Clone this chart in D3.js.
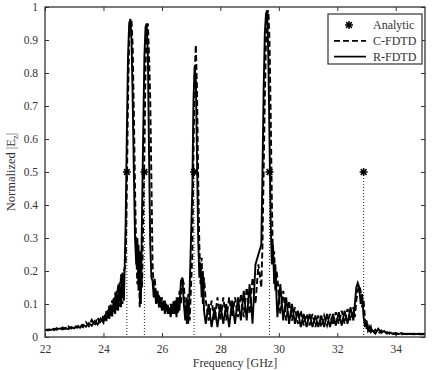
<!DOCTYPE html>
<html>
<head>
<meta charset="utf-8">
<script src="https://cdn.jsdelivr.net/npm/d3@7/dist/d3.min.js"></script>
<style>
  body { margin: 0; background: #fff; }
  svg { display: block; }
  text { font-family: "Liberation Serif", "Times New Roman", serif; fill: #333; }
</style>
</head>
<body>
<div id="chart"></div>
<script>
// frequency grid [GHz]
const freq = [
  22.0, 22.1, 22.2, 22.3, 22.4, 22.5, 22.6, 22.7, 22.8, 22.9, 23.0, 23.1, 23.2, 23.3, 23.4, 23.5, 23.6, 23.7, 23.8, 23.9, 24.0,
  24.05, 24.1, 24.15, 24.2, 24.25, 24.3, 24.35, 24.4, 24.45, 24.5, 24.55, 24.6, 24.65, 24.7,
  24.76, 24.8, 24.84, 24.88, 24.92, 24.96, 25.0, 25.04, 25.08, 25.12, 25.16, 25.2, 25.24, 25.28, 25.32, 25.36, 25.4, 25.44, 25.48, 25.52, 25.56, 25.6, 25.64, 25.68, 25.72,
  25.75, 25.8, 25.85, 25.9, 25.95, 26.0, 26.05, 26.1, 26.15, 26.2, 26.25, 26.3, 26.35, 26.4, 26.45, 26.5, 26.55, 26.6, 26.65, 26.7, 26.75, 26.8, 26.85, 26.9, 26.95,
  27.04, 27.08, 27.12, 27.16, 27.2, 27.24, 27.28, 27.32, 27.36, 27.4, 27.44,
  27.5, 27.6, 27.7, 27.8, 27.9, 28.0, 28.1, 28.2, 28.3, 28.4, 28.5, 28.6, 28.7, 28.8, 28.9, 29.0, 29.1, 29.2, 29.3,
  29.4, 29.44, 29.48, 29.52, 29.56, 29.6, 29.64, 29.68, 29.72, 29.76, 29.8, 29.84, 29.88, 29.92,
  29.95, 30.05, 30.15, 30.25, 30.35, 30.45, 30.55, 30.65, 30.75, 30.85, 30.95, 31.05, 31.15, 31.25, 31.35, 31.45, 31.55, 31.65, 31.75, 31.85, 31.95, 32.05, 32.15, 32.25, 32.35, 32.45,
  32.55, 32.6, 32.65, 32.7, 32.75, 32.8, 32.85, 32.9, 32.95, 33.0, 33.05, 33.1, 33.15,
  33.2, 33.3, 33.4, 33.5, 33.6, 33.7, 33.8, 33.9, 34.0, 34.1, 34.2, 34.3, 34.4, 34.5, 34.6, 34.7, 34.8, 34.9, 35.0
]

const cfdtd = [
  0.023, 0.020, 0.025, 0.021, 0.027, 0.022, 0.029, 0.024, 0.032, 0.026, 0.035, 0.028, 0.040, 0.030, 0.045, 0.033, 0.052, 0.036, 0.060, 0.040, 0.066,
  0.050, 0.078, 0.058, 0.095, 0.065, 0.112, 0.072, 0.135, 0.082, 0.160, 0.092, 0.190, 0.100, 0.200,
  0.22, 0.45, 0.72, 0.90, 0.95, 0.96, 0.88, 0.68, 0.45, 0.26, 0.16, 0.28, 0.09, 0.22, 0.15, 0.35, 0.55, 0.82, 0.93, 0.95, 0.85, 0.72, 0.48, 0.22, 0.15,
  0.18, 0.13, 0.10, 0.13, 0.09, 0.12, 0.08, 0.11, 0.08, 0.10, 0.07, 0.10, 0.07, 0.11, 0.07, 0.12, 0.07, 0.14, 0.10, 0.18, 0.16, 0.08, 0.04, 0.13, 0.05,
  0.25, 0.55, 0.80, 0.885, 0.75, 0.48, 0.28, 0.16, 0.24, 0.10, 0.18,
  0.11, 0.05, 0.11, 0.05, 0.12, 0.05, 0.12, 0.05, 0.12, 0.06, 0.12, 0.06, 0.13, 0.06, 0.15, 0.07, 0.18, 0.10, 0.22,
  0.15, 0.28, 0.50, 0.72, 0.90, 0.98, 0.99, 0.90, 0.68, 0.42, 0.22, 0.26, 0.14, 0.20,
  0.18, 0.07, 0.14, 0.05, 0.11, 0.05, 0.09, 0.04, 0.08, 0.035, 0.07, 0.035, 0.07, 0.03, 0.065, 0.03, 0.065, 0.035, 0.07, 0.035, 0.075, 0.04, 0.08, 0.04, 0.085, 0.05,
  0.09, 0.06, 0.11, 0.14, 0.155, 0.14, 0.09, 0.11, 0.05, 0.025, 0.04, 0.015, 0.03,
  0.012, 0.022, 0.010, 0.020, 0.010, 0.015, 0.009, 0.012, 0.008, 0.011, 0.008, 0.010, 0.008, 0.010, 0.008, 0.009, 0.008, 0.009, 0.008
]

const rfdtd = [
  0.020, 0.023, 0.021, 0.025, 0.022, 0.026, 0.023, 0.028, 0.024, 0.030, 0.026, 0.033, 0.028, 0.037, 0.031, 0.042, 0.034, 0.048, 0.038, 0.056, 0.043,
  0.068, 0.048, 0.082, 0.055, 0.098, 0.062, 0.118, 0.070, 0.140, 0.080, 0.165, 0.090, 0.195, 0.110,
  0.35, 0.62, 0.85, 0.95, 0.964, 0.90, 0.72, 0.50, 0.30, 0.22, 0.30, 0.14, 0.26, 0.10, 0.38, 0.62, 0.85, 0.94, 0.95, 0.85, 0.55, 0.28, 0.18, 0.17, 0.12,
  0.15, 0.10, 0.14, 0.09, 0.12, 0.08, 0.11, 0.07, 0.10, 0.07, 0.09, 0.06, 0.10, 0.07, 0.11, 0.06, 0.12, 0.08, 0.17, 0.18, 0.10, 0.05, 0.12, 0.04, 0.15,
  0.45, 0.72, 0.82, 0.78, 0.55, 0.30, 0.18, 0.22, 0.12, 0.20, 0.08,
  0.04, 0.10, 0.03, 0.09, 0.03, 0.10, 0.04, 0.10, 0.03, 0.11, 0.04, 0.12, 0.05, 0.14, 0.05, 0.16, 0.04, 0.22, 0.25,
  0.28, 0.50, 0.75, 0.92, 0.98, 0.99, 0.85, 0.60, 0.35, 0.22, 0.28, 0.16, 0.22, 0.12,
  0.06, 0.16, 0.05, 0.12, 0.04, 0.10, 0.04, 0.08, 0.03, 0.07, 0.03, 0.07, 0.03, 0.065, 0.03, 0.065, 0.03, 0.07, 0.03, 0.07, 0.035, 0.075, 0.035, 0.08, 0.04, 0.09,
  0.05, 0.10, 0.15, 0.164, 0.15, 0.10, 0.13, 0.06, 0.03, 0.05, 0.02, 0.03, 0.015,
  0.020, 0.010, 0.025, 0.012, 0.018, 0.010, 0.014, 0.009, 0.012, 0.009, 0.012, 0.009, 0.010, 0.009, 0.010, 0.009, 0.010, 0.009, 0.010
]

const analyticFreq = [24.80, 25.40, 27.10, 29.68, 32.90]
const analyticVal = [0.5, 0.5, 0.5, 0.5, 0.5]

const xTicks = [22, 24, 26, 28, 30, 32, 34]
const yTicks = [0, 0.1, 0.2, 0.3, 0.4, 0.5, 0.6, 0.7, 0.8, 0.9, 1]
const yTickLabels = ['0', '0.1', '0.2', '0.3', '0.4', '0.5', '0.6', '0.7', '0.8', '0.9', '1']
const legendLabels = ['Analytic', 'C-FDTD', 'R-FDTD']

const width = 432
const height = 370
const margin = { top: 7, right: 7, bottom: 33, left: 45 }
const innerW = width - margin.left - margin.right
const innerH = height - margin.top - margin.bottom

const svg = d3.select('#chart').append('svg')
  .attr('width', width)
  .attr('height', height)

const g = svg.append('g').attr('transform', `translate(${margin.left},${margin.top})`)

const x = d3.scaleLinear().domain([22, 35]).range([0, innerW])
const y = d3.scaleLinear().domain([0, 1]).range([innerH, 0])

const clip = svg.append('clipPath').attr('id', 'plotclip')
clip.append('rect').attr('width', innerW).attr('height', innerH)

// axes, ticks pointing inward on all four sides
const styleAxis = (sel) => {
  sel.select('.domain').remove()
  sel.selectAll('.tick line').attr('stroke', '#333').attr('stroke-width', 1)
  sel.selectAll('.tick text').attr('font-size', 11.5).attr('fill', '#333')
}

g.append('g')
  .attr('transform', `translate(0,${innerH})`)
  .call(d3.axisBottom(x).tickValues(xTicks).tickSize(-4).tickPadding(8).tickFormat(d3.format('d')))
  .call(styleAxis)
g.append('g')
  .call(d3.axisTop(x).tickValues(xTicks).tickSize(-4).tickFormat(''))
  .call(styleAxis)
g.append('g')
  .call(d3.axisLeft(y).tickValues(yTicks).tickSize(-4).tickPadding(7).tickFormat((d, i) => yTickLabels[i]))
  .call(styleAxis)
g.append('g')
  .attr('transform', `translate(${innerW},0)`)
  .call(d3.axisRight(y).tickValues(yTicks).tickSize(-4).tickFormat(''))
  .call(styleAxis)

const plot = g.append('g').attr('clip-path', 'url(#plotclip)')

// dotted drops under the analytic points
plot.selectAll('line.drop')
  .data(analyticFreq)
  .enter()
  .append('line')
  .attr('class', 'drop')
  .attr('x1', (d) => x(d))
  .attr('x2', (d) => x(d))
  .attr('y1', (d, i) => y(analyticVal[i]))
  .attr('y2', y(0))
  .attr('stroke', '#222')
  .attr('stroke-width', 1)
  .attr('stroke-dasharray', '1,2')

const line = (vals) => d3.line()
  .x((d, i) => x(freq[i]))
  .y((d) => y(d))(vals)

plot.append('path')
  .attr('d', line(cfdtd))
  .attr('fill', 'none')
  .attr('stroke', '#000')
  .attr('stroke-width', 1.9)
  .attr('stroke-dasharray', '6,3')

plot.append('path')
  .attr('d', line(rfdtd))
  .attr('fill', 'none')
  .attr('stroke', '#000')
  .attr('stroke-width', 1.9)

const starPath = (r) => {
  const d = r * 0.72
  return `M${-r},0L${r},0M0,${-r}L0,${r}M${-d},${-d}L${d},${d}M${-d},${d}L${d},${-d}`
}

g.selectAll('path.star')
  .data(analyticFreq)
  .enter()
  .append('path')
  .attr('class', 'star')
  .attr('transform', (d, i) => `translate(${x(d)},${y(analyticVal[i])})`)
  .attr('d', starPath(4))
  .attr('stroke', '#000')
  .attr('stroke-width', 1.5)
  .attr('fill', 'none')

// frame
g.append('rect')
  .attr('width', innerW)
  .attr('height', innerH)
  .attr('fill', 'none')
  .attr('stroke', '#333')
  .attr('stroke-width', 1.3)

// legend
const legend = g.append('g').attr('transform', `translate(${328 - margin.left},${14 - margin.top})`)
legend.append('rect')
  .attr('width', 94)
  .attr('height', 50)
  .attr('fill', '#fff')
  .attr('stroke', '#333')
  .attr('stroke-width', 1.2)

const rows = legend.selectAll('g.row')
  .data(legendLabels)
  .enter()
  .append('g')
  .attr('class', 'row')
  .attr('transform', (d, i) => `translate(0,${11 + i * 15.8})`)

rows.append('text')
  .attr('x', 45)
  .attr('y', 0)
  .attr('dy', '0.35em')
  .attr('font-size', 12)
  .text((d) => d)

rows.filter((d, i) => i === 0)
  .append('path')
  .attr('transform', 'translate(21,0)')
  .attr('d', starPath(4))
  .attr('stroke', '#000')
  .attr('stroke-width', 1.5)

rows.filter((d, i) => i > 0)
  .append('line')
  .attr('x1', 6)
  .attr('x2', 38)
  .attr('stroke', '#000')
  .attr('stroke-width', 1.7)
  .attr('stroke-dasharray', (d, i) => (i === 0 ? '6,3' : null))

// axis titles
svg.append('text')
  .attr('x', margin.left + innerW / 2)
  .attr('y', 367)
  .attr('text-anchor', 'middle')
  .attr('font-size', 12)
  .text('Frequency [GHz]')

const ylab = svg.append('text')
  .attr('transform', `translate(15,${margin.top + innerH / 2}) rotate(-90)`)
  .attr('text-anchor', 'middle')
  .attr('font-size', 12.5)
ylab.append('tspan').text('Normalized |E')
ylab.append('tspan').attr('font-size', 8.5).attr('dy', 3).text('z')
ylab.append('tspan').attr('dy', -3).text('|')
</script>
</body>
</html>
